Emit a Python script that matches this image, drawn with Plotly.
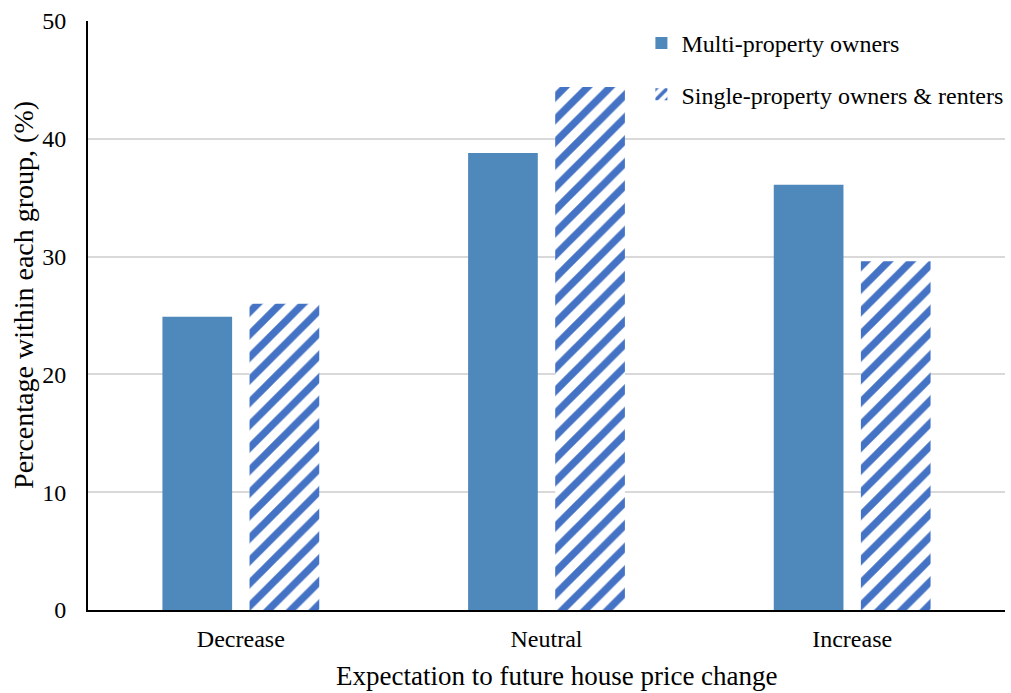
import plotly.graph_objects as go

categories = ["Decrease", "Neutral", "Increase"]
multi_owners = [24.9, 38.8, 36.1]
single_owners_renters = [26.0, 44.4, 29.6]
y_ticks = [0, 10, 20, 30, 40, 50]

FONT = "Liberation Serif"

fig = go.Figure()
fig.add_trace(go.Bar(
    x=categories, y=multi_owners, name="Multi-property owners",
    legendgroup="a",
    marker=dict(color="#4F88BB", line=dict(width=0)),
))
fig.add_trace(go.Bar(
    x=categories, y=single_owners_renters, name="Single-property owners & renters",
    legendgroup="b",
    marker=dict(
        color="white", line=dict(width=0),
        pattern=dict(shape="/", fgcolor="#4472C4", bgcolor="white",
                     fgopacity=1, size=16, solidity=0.45, fillmode="replace"),
    ),
))

fig.update_layout(
    width=1011, height=693,
    margin=dict(l=88, r=6, t=21, b=83, autoexpand=False),
    paper_bgcolor="white", plot_bgcolor="white",
    font=dict(family=FONT, size=24, color="black"),
    barmode="group", bargap=0.43, bargroupgap=0.2,
    showlegend=True,
    legend=dict(
        x=0.6035, y=1.0, xanchor="left", yanchor="top",
        font=dict(family=FONT, size=24, color="black"),
        bgcolor="rgba(0,0,0,0)", tracegroupgap=17,
        itemwidth=30,
    ),
    annotations=[
        dict(text="Expectation to future house price change",
             xref="paper", yref="paper", x=0.5115, y=-0.112,
             xanchor="center", yanchor="middle", showarrow=False,
             font=dict(family=FONT, size=27, color="black")),
        dict(text="Percentage within each group, (%)", textangle=-90,
             xref="paper", yref="paper", x=-0.0698, y=0.535,
             xanchor="center", yanchor="middle", showarrow=False,
             font=dict(family=FONT, size=28, color="black")),
    ],
)
fig.update_xaxes(
    showline=True, linecolor="black", linewidth=2,
    ticks="outside", ticklen=6, tickcolor="rgba(0,0,0,0)", showgrid=False,
    tickfont=dict(family=FONT, size=24),
)
fig.update_yaxes(
    range=[0, 50], tickvals=y_ticks,
    showline=True, linecolor="black", linewidth=2,
    showgrid=True, gridcolor="#D9D9D9", gridwidth=1.5,
    ticks="", ticklabelstandoff=15,
    tickfont=dict(family=FONT, size=24),
    zeroline=False,
)

fig.write_html("out.html")
